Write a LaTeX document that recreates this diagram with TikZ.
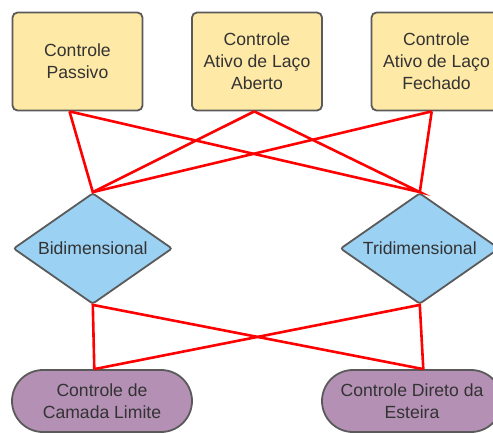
\documentclass[tikz,border=0pt]{standalone}
\usepackage{fontspec}
\setmainfont{Liberation Sans}
\usetikzlibrary{shapes.geometric,calc}
\definecolor{boxfill}{HTML}{FEE9A6}
\definecolor{diafill}{HTML}{9BD1F2}
\definecolor{pillfill}{HTML}{B490B5}
\definecolor{edgegrey}{HTML}{5A5A5A}
\definecolor{txt}{HTML}{333333}
\begin{document}
\begin{tikzpicture}[x=1pt,y=-1pt,
  every node/.style={font=\fontsize{17.6}{22}\selectfont, text=txt, align=center, draw=edgegrey, line width=1.8pt},
  strategy/.style={rectangle, rounded corners=5pt, fill=boxfill, minimum width=130pt, minimum height=98pt, inner sep=0pt},
  geometry/.style={diamond, aspect=1.445, rounded corners=2.5pt, fill=diafill, minimum width=159pt, minimum height=111pt, inner sep=0pt},
  technique/.style={rectangle, rounded corners=31pt, fill=pillfill, minimum width=180pt, minimum height=62pt, inner sep=0pt},
  link/.style={red, line width=2.6pt, line join=miter}]
\useasboundingbox (0,0) rectangle (493,432);

% top row: control strategies
\node[strategy] (pas) at (77.5,61.5) {Controle\\Passivo};
\node[strategy] (abe) at (257,61.5) {Controle\\Ativo de Laço\\Aberto};
\node[strategy] (fec) at (436.5,61.5) {Controle\\Ativo de Laço\\Fechado};

% middle row: flow geometry
\node[geometry] (bi) at (92.8,248.5) {Bidimensional};
\node[geometry] (tri) at (419.8,248.5) {Tridimensional};

% bottom row: techniques
\node[technique] (cam) at (102,401) {Controle de\\Camada Limite};
\node[technique] (est) at (412,401) {Controle Direto da\\Esteira};

% connectors
\coordinate (pas-o) at ([xshift=-8pt]pas.south);
\coordinate (abe-o) at ([xshift=-2.7pt]abe.south);
\coordinate (fec-o) at ([xshift=-4.8pt]fec.south);
\coordinate (cam-i) at ([xshift=-7.7pt]cam.north);
\coordinate (est-i) at ([xshift=11.3pt]est.north);

\draw[link] (pas-o) -- (bi.north) -- (abe-o);
\draw[link] (bi.north) -- (fec-o);
\draw[link] (pas-o) -- (tri.north) -- (abe-o);
\draw[link] (tri.north) -- (fec-o);

\draw[link] (cam-i) -- (bi.south) -- (est-i);
\draw[link] (cam-i) -- (tri.south) -- (est-i);
\end{tikzpicture}
\end{document}
